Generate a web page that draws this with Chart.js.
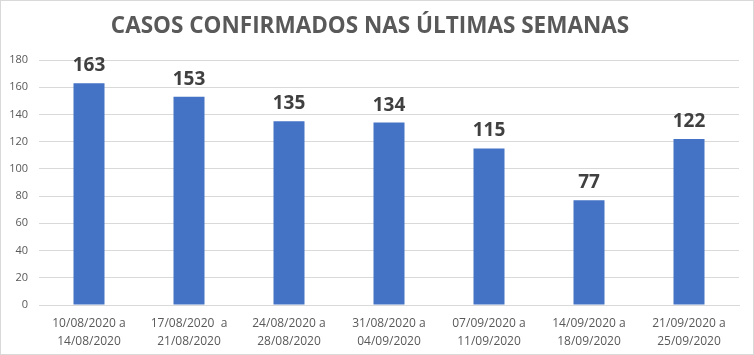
<!DOCTYPE html>
<html>
<head>
<meta charset="utf-8">
<script src="https://cdn.jsdelivr.net/npm/chart.js@4.4.0/dist/chart.umd.min.js"></script>
<style>
  html, body { margin: 0; padding: 0; background: #fff; }
  #wrap { width: 754px; height: 355px; box-sizing: border-box; border: 1px solid #d9d9d9; }
</style>
</head>
<body>
<div id="wrap"><canvas id="casosChart" width="752" height="353"></canvas></div>
<script>
// Data
const weeks = [
    ['10/08/2020 a', '14/08/2020'],
    ['17/08/2020  a', '21/08/2020'],
    ['24/08/2020 a', '28/08/2020'],
    ['31/08/2020 a', '04/09/2020'],
    ['07/09/2020 a', '11/09/2020'],
    ['14/09/2020 a', '18/09/2020'],
    ['21/09/2020 a', '25/09/2020']
];
const cases = [163, 153, 135, 134, 115, 77, 122];
const yTicks = [0, 20, 40, 60, 80, 100, 120, 140, 160, 180];

// Value labels above the bars
const valueLabels = {
    id: 'valueLabels',
    afterDatasetsDraw(chart) {
        const ctx = chart.ctx;
        const meta = chart.getDatasetMeta(0);
        ctx.save();
        ctx.font = 'bold 19px "Open Sans", sans-serif';
        ctx.fillStyle = '#404040';
        ctx.textAlign = 'center';
        ctx.textBaseline = 'bottom';
        meta.data.forEach((bar, i) => {
            ctx.fillText(cases[i], bar.x, bar.y - 8);
        });
        ctx.restore();
    }
};

const ctx = document.getElementById('casosChart').getContext('2d');

let chart = new Chart(ctx, {
    type: 'bar',
    data: {
        labels: weeks,
        datasets: [{
            data: cases,
            backgroundColor: '#4472c4',
            categoryPercentage: 1,
            barPercentage: 0.31
        }]
    },
    options: {
        responsive: false,
        animation: false,
        layout: { padding: { left: 0, right: 14, top: 0, bottom: 2 } },
        plugins: {
            legend: { display: false },
            tooltip: { enabled: false },
            title: {
                display: true,
                text: 'CASOS CONFIRMADOS NAS ÚLTIMAS SEMANAS',
                color: '#595959',
                font: { family: '"Open Sans", sans-serif', size: 22.5, weight: 'bold' },
                padding: { top: 12, bottom: 20 }
            }
        },
        scales: {
            x: {
                grid: { display: false },
                border: { color: '#d9d9d9' },
                ticks: {
                    color: '#595959',
                    font: { family: '"Open Sans", sans-serif', size: 12, lineHeight: 1.5 },
                    maxRotation: 0,
                    autoSkip: false,
                    padding: 2
                },
                afterFit(scale) { scale.height = 47; }
            },
            y: {
                min: 0,
                max: 180,
                afterBuildTicks(scale) { scale.ticks = yTicks.map(v => ({ value: v })); },
                grid: { color: '#d9d9d9', drawTicks: false },
                border: { display: false },
                ticks: {
                    color: '#595959',
                    font: { family: '"Open Sans", sans-serif', size: 11 },
                    padding: 11
                },
                afterFit(scale) { scale.width = 38; }
            }
        }
    },
    plugins: [valueLabels]
});
</script>
</body>
</html>
